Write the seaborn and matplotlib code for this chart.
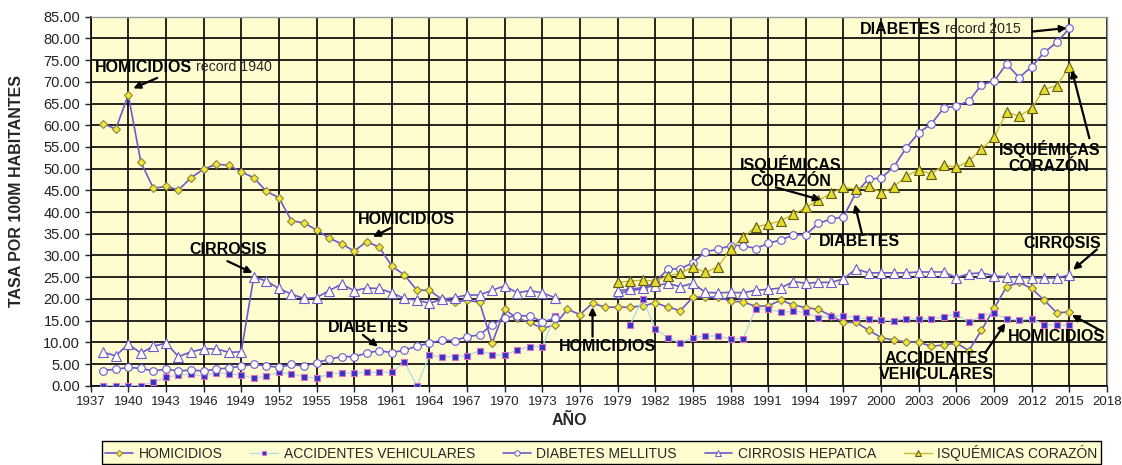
import numpy as np
import pandas as pd
import matplotlib
matplotlib.use("Agg")
import matplotlib.pyplot as plt
from matplotlib.lines import Line2D
import seaborn as sns

# ---- data: tasas por 100 mil habitantes, 1938-2015 ----
years = list(range(1938, 2016))
NA = np.nan

homicidios = [60.4, 59.1, 67.0, 51.5, 45.5, 45.9, 45.1, 47.9, 49.9, 51.0,
              50.8, 49.3, 47.9, 44.8, 43.3, 38.0, 37.5, 35.9, 34.0, 32.7,
              31.0, 33.2, 31.9, 27.6, 25.5, 22.0, 22.0, 19.9, 19.3, 19.7,
              19.2, 9.8, 17.6, 15.5, 14.6, 13.2, 14.0, 17.6, 16.4, 19.0,
              18.1, 18.1, 18.1, 18.4, 19.1, 18.1, 17.3, 20.4, 20.4, 20.4,
              19.5, 19.3, 18.3, 18.4, 19.7, 18.6, 18.0, 17.6, 16.1, 14.6,
              14.6, 12.8, 11.1, 10.5, 10.1, 10.0, 9.1, 9.4, 9.8, 8.1,
              12.8, 17.8, 22.8, 23.8, 22.4, 19.7, 16.8, 17.0]

accidentes = [0.0, 0.0, 0.0, 0.0, 0.9, 1.9, 2.5, 2.6, 2.2, 3.0,
              2.7, 2.5, 1.7, 2.2, 3.1, 2.7, 2.1, 1.7, 2.7, 2.9,
              2.9, 3.1, 3.1, 3.1, 5.5, 0.0, 7.0, 6.7, 6.7, 6.9,
              8.1, 7.1, 7.1, 8.2, 9.0, 9.0, 16.1, NA, NA, NA,
              NA, NA, 14.1, 20.0, 13.1, 11.1, 9.8, 11.1, 11.4, 11.5,
              10.8, 10.8, 17.7, 17.6, 16.9, 17.1, 16.9, 15.7, 16.1, 16.1,
              15.7, 15.4, 15.1, 15.0, 15.4, 15.4, 15.4, 15.9, 16.5, 14.6,
              16.1, 16.7, 15.4, 15.1, 15.4, 14.1, 13.9, 13.9]

diabetes = [3.5, 3.8, 4.2, 4.0, 3.4, 3.8, 3.4, 3.6, 3.4, 3.8,
            4.1, 4.5, 4.9, 4.6, 4.2, 4.9, 4.5, 5.3, 6.1, 6.7,
            6.7, 7.5, 8.1, 7.6, 8.2, 9.1, 9.8, 10.5, 10.4, 11.3,
            11.7, 14.1, 15.7, 16.1, 16.1, 14.7, 15.5, NA, NA, NA,
            NA, 21.1, 22.0, 22.2, 24.0, 26.8, 27.0, 28.3, 30.9, 31.4,
            32.3, 32.3, 31.6, 32.8, 33.6, 34.7, 34.8, 37.4, 38.4, 38.9,
            44.5, 47.6, 47.8, 50.4, 54.8, 58.3, 60.3, 64.0, 64.4, 65.6,
            69.3, 70.2, 74.1, 71.0, 73.5, 76.8, 79.1, 82.3]

cirrosis = [7.7, 6.9, 9.6, 7.5, 9.1, 9.8, 6.7, 7.8, 8.5, 8.5,
            7.7, 7.8, 25.1, 24.1, 22.4, 21.1, 20.1, 20.3, 21.9, 23.4,
            21.9, 22.5, 22.4, 21.4, 20.1, 19.7, 19.0, 19.9, 20.3, 20.9,
            20.9, 22.0, 23.0, 21.4, 21.9, 21.4, 20.3, NA, NA, NA,
            NA, 21.9, 22.2, 22.6, 23.0, 23.6, 22.8, 23.6, 21.5, 21.4,
            21.5, 21.4, 22.0, 22.2, 22.5, 24.0, 23.6, 23.8, 23.8, 24.6,
            26.9, 26.0, 26.0, 26.0, 26.0, 26.2, 26.2, 26.2, 24.9, 25.8,
            26.0, 25.3, 25.1, 24.9, 24.8, 24.8, 24.8, 25.5]

isquemicas = [NA] * 41 + [
    23.8, 24.1, 24.3, 24.1, 25.3, 25.9, 27.4, 26.1, 27.4, 31.4,
    34.2, 36.6, 37.2, 38.0, 39.5, 41.1, 42.7, 44.3, 45.7, 45.3,
    46.0, 44.5, 45.8, 48.3, 49.7, 48.8, 50.8, 50.3, 51.8, 54.5,
    57.2, 63.0, 62.1, 63.9, 68.3, 69.1, 73.5]

series_names = ["HOMICIDIOS", "ACCIDENTES VEHICULARES", "DIABETES MELLITUS",
                "CIRROSIS HEPATICA", "ISQUÉMICAS CORAZÓN"]
series_values = [homicidios, accidentes, diabetes, cirrosis, isquemicas]

x_ticks = list(range(1937, 2019, 3))
y_ticks = list(range(0, 86, 5))

# ---- styles ----
PURPLE = "#6A5ACD"
styles = {
    "HOMICIDIOS": dict(color=PURPLE, marker="D", ms=4.5, mfc="#F2E63A", mec="#8C8440", lw=1.2),
    "ACCIDENTES VEHICULARES": dict(color="#A8DCE8", marker="s", ms=5, mfc="#3434C4", mec="#E070C8", lw=0.9),
    "DIABETES MELLITUS": dict(color=PURPLE, marker="o", ms=5.5, mfc="white", mec=PURPLE, lw=1.2),
    "CIRROSIS HEPATICA": dict(color=PURPLE, marker="^", ms=6.5, mfc="white", mec=PURPLE, lw=1.2),
    "ISQUÉMICAS CORAZÓN": dict(color="#C9BC2A", marker="^", ms=6.5, mfc="#E6DC28", mec="#5E5A20", lw=1.0),
}

# long-form table; runs of missing years split each series into separate segments
rows = []
for name, vals in zip(series_names, series_values):
    seg = 0
    prev_nan = True
    for yr, v in zip(years, vals):
        if np.isnan(v):
            prev_nan = True
            continue
        if prev_nan:
            seg += 1
            prev_nan = False
        rows.append({"serie": name, "anio": yr, "tasa": v, "tramo": f"{name}-{seg}"})
df = pd.DataFrame(rows)

sns.set_style("ticks", {"axes.facecolor": "#FFFDD0"})
plt.rcParams["font.family"] = ["Liberation Sans", "DejaVu Sans"]

fig = plt.figure(figsize=(11.22, 4.65), dpi=100)
ax = fig.add_axes([0.0808, 0.1705, 0.9058, 0.7935])

for name in series_names:
    st = styles[name]
    sub = df[df["serie"] == name]
    sns.lineplot(data=sub, x="anio", y="tasa", units="tramo", estimator=None,
                 ax=ax, color=st["color"], lw=st["lw"], marker=st["marker"],
                 markersize=st["ms"], markerfacecolor=st["mfc"],
                 markeredgecolor=st["mec"], markeredgewidth=0.8,
                 legend=False, zorder=3)

ax.set_xlim(1937, 2018)
ax.set_ylim(0, 85)
ax.set_xticks(x_ticks)
ax.set_yticks(y_ticks)
ax.set_yticklabels([f"{v:.2f}" for v in y_ticks])
ax.grid(True, color="black", lw=1.2, zorder=1)
ax.set_axisbelow(True)
ax.tick_params(axis="y", labelsize=10.5, colors="#222222", length=4, width=1)
ax.tick_params(axis="x", labelsize=9.5, colors="#222222", length=4, width=1)
for s in ["left", "bottom"]:
    ax.spines[s].set_color("black")
    ax.spines[s].set_linewidth(1.2)
for s in ["top", "right"]:
    ax.spines[s].set_visible(True)
    ax.spines[s].set_color("#999999")
    ax.spines[s].set_linewidth(1.0)

ax.set_xlabel("AÑO", fontsize=11.5, fontweight="bold")
ax.set_ylabel("TASA POR 100M HABITANTES", fontsize=11.5, fontweight="bold")
ax.xaxis.set_label_coords(0.471, -0.074)
ax.yaxis.set_label_coords(-0.0655, 0.528)

# ---- annotations ----
arrow = dict(arrowstyle="-|>", color="black", lw=1.6, mutation_scale=10, shrinkA=0, shrinkB=0)
bold = dict(fontsize=11.5, fontweight="bold", color="black")

def note(text, xytext, xy, ha="center", va="center", **kw):
    ax.annotate("", xy=xy, xytext=xytext[1], arrowprops=arrow, zorder=5)
    return ax.text(xytext[0][0], xytext[0][1], text, ha=ha, va=va, zorder=6,
                   linespacing=1.05, **bold, **kw)

# record labels: bold series name followed by plain text
t1 = ax.text(1937.35, 73.4, "HOMICIDIOS", ha="left", va="center", **bold)
ax.annotate("record 1940", xy=(1, 0.5), xycoords=t1, xytext=(3, 0),
            textcoords="offset points", ha="left", va="center", fontsize=10.2)
ax.annotate("", xy=(1940.4, 68.5), xytext=(1942.3, 70.9), arrowprops=arrow)

t2 = ax.text(1998.3, 82.1, "DIABETES", ha="left", va="center", **bold)
ax.annotate("record 2015", xy=(1, 0.5), xycoords=t2, xytext=(3, 0),
            textcoords="offset points", ha="left", va="center", fontsize=10.2)
ax.annotate("", xy=(2014.8, 82.4), xytext=(2012.1, 81.6), arrowprops=arrow)

note("HOMICIDIOS", ((1958.3, 38.4), (1960.9, 36.3)), (1959.5, 34.3), ha="left")
note("CIRROSIS", ((1948.0, 31.4), (1947.9, 28.7)), (1949.9, 26.0))
note("DIABETES", ((1955.9, 13.45), (1958.7, 11.7)), (1959.9, 9.0), ha="left")
note("HOMICIDIOS", ((1978.2, 9.0), (1977.0, 11.3)), (1977.0, 18.1))
note("ISQUÉMICAS\nCORAZÓN", ((1992.8, 49.3), (1991.6, 45.7)), (1995.2, 42.8))
note("DIABETES", ((1998.3, 33.2), (1998.5, 34.7)), (1997.9, 41.8))
note("ISQUÉMICAS\nCORAZÓN", ((2013.4, 52.7), (2016.6, 57.0)), (2015.2, 72.7))
note("CIRROSIS", ((2014.4, 32.8), (2017.2, 31.4)), (2015.3, 26.7))
note("HOMICIDIOS", ((2014.0, 11.3), (2017.7, 12.4)), (2015.2, 16.3))
note("ACCIDENTES\nVEHICULARES", ((2004.4, 4.45), (2008.3, 7.6)), (2009.9, 14.4))

# ---- legend ----
handles = []
for name in series_names:
    st = styles[name]
    handles.append(Line2D([], [], color=st["color"], lw=st["lw"], marker=st["marker"],
                          markersize=st["ms"] * 0.7, markerfacecolor=st["mfc"],
                          markeredgecolor=st["mec"], markeredgewidth=0.7))
leg = fig.legend(handles, series_names, loc="center", ncol=5, mode="expand",
                 bbox_to_anchor=(95 / 1122, 0.006, 1013 / 1122, 0.04),
                 frameon=True, fancybox=False,
                 edgecolor="black", framealpha=1, borderpad=0.25,
                 handlelength=2.0, handletextpad=0.4,
                 prop={"size": 10})
leg.get_frame().set_linewidth(1.0)

fig.savefig("out.png", dpi=100, facecolor="white")
